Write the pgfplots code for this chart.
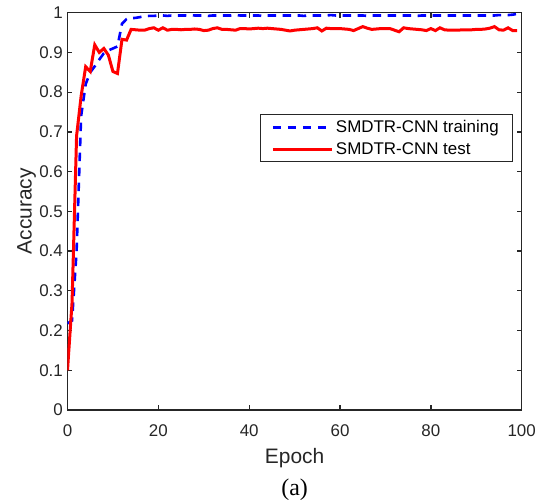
\documentclass[border=0pt]{standalone}
\usepackage{fontspec}
\setmainfont{Liberation Sans}
\newfontfamily\timesfont{Liberation Serif}
\usepackage{pgfplots}
\pgfplotsset{compat=1.18}
\definecolor{axgray}{RGB}{38,38,38}
\begin{document}
\begin{tikzpicture}
\path[use as bounding box] (-67.5bp,-90bp) rectangle (483.5bp,410bp);
\begin{axis}[
  name=ax,
  at={(0,0)}, anchor=south west,
  scale only axis, width=454.2bp, height=397.3bp,
  xmin=0, xmax=100, ymin=0, ymax=1,
  xtick={0,20,40,60,80,100},
  ytick={0,0.1,0.2,0.3,0.4,0.5,0.6,0.7,0.8,0.9,1},
  yticklabels={0,0.1,0.2,0.3,0.4,0.5,0.6,0.7,0.8,0.9,1},
  xticklabels={0,20,40,60,80,100},
  tick align=inside, tick pos=both,
  xticklabel pos=left, yticklabel pos=left,
  major tick length=5bp,
  axis line style={axgray, line width=1.3bp},
  every tick/.style={axgray, line width=1.3bp},
  ticklabel style={font=\fontsize{17}{20}\selectfont, text=axgray},
  yticklabel style={anchor=east, inner sep=0pt, xshift=-4.5bp},
  xticklabel style={anchor=base, inner sep=0pt, yshift=-26bp},
  xlabel={Epoch}, ylabel={Accuracy},
  xlabel style={at={(axis description cs:0.5,-0.1359)}, anchor=base, inner sep=0pt, font=\fontsize{21}{25}\selectfont, text=axgray},
  ylabel style={at={(axis description cs:-0.0900,0.5)}, anchor=center, inner sep=0pt, font=\fontsize{21}{25}\selectfont, text=axgray},
  legend cell align=left,
  legend style={at={(axis description cs:0.4238,0.7443)}, anchor=north west,
    draw=axgray, line width=0.8bp, fill=white,
    font=\fontsize{17}{20}\selectfont,
    inner xsep=11bp, inner ysep=5bp, row sep=6bp, column sep=0bp,
    nodes={inner xsep=2.6bp, inner ysep=1bp}},
  legend image code/.code={\draw[#1] (0bp,0bp) -- (59bp,0bp);},
]
\addplot[blue, line width=2.6bp, dash pattern=on 8.5bp off 6.5bp] table {
0 0.218
1 0.225
2 0.40
3 0.74
4 0.82
5 0.85
6 0.865
7 0.882
8 0.898
9 0.905
10 0.910
11 0.915
12 0.972
13 0.984
14 0.986
15 0.987
16 0.989
17 0.991
18 0.992
19 0.992
20 0.993
21 0.993
22 0.992
23 0.993
24 0.993
25 0.993
26 0.993
27 0.994
28 0.993
29 0.993
30 0.993
31 0.992
32 0.993
33 0.993
34 0.993
35 0.993
36 0.993
37 0.994
38 0.993
39 0.993
40 0.993
41 0.993
42 0.993
43 0.992
44 0.993
45 0.993
46 0.993
47 0.993
48 0.993
49 0.993
50 0.993
51 0.993
52 0.992
53 0.993
54 0.993
55 0.993
56 0.993
57 0.993
58 0.994
59 0.993
60 0.993
61 0.993
62 0.993
63 0.993
64 0.993
65 0.993
66 0.992
67 0.993
68 0.993
69 0.993
70 0.993
71 0.993
72 0.993
73 0.993
74 0.993
75 0.993
76 0.993
77 0.992
78 0.993
79 0.993
80 0.993
81 0.993
82 0.993
83 0.993
84 0.993
85 0.993
86 0.993
87 0.993
88 0.993
89 0.993
90 0.993
91 0.993
92 0.993
93 0.993
94 0.993
95 0.994
96 0.994
97 0.994
98 0.995
99 0.997
};
\addlegendentry{SMDTR-CNN training}
\addplot[red, line width=3bp] table {
0 0.10
1 0.27
2 0.69
3 0.79
4 0.864
5 0.852
6 0.919
7 0.900
8 0.910
9 0.893
10 0.852
11 0.847
12 0.933
13 0.931
14 0.958
15 0.957
16 0.956
17 0.956
18 0.960
19 0.962
20 0.956
21 0.962
22 0.956
23 0.958
24 0.958
25 0.957
26 0.958
27 0.958
28 0.959
29 0.958
30 0.955
31 0.956
32 0.960
33 0.962
34 0.958
35 0.958
36 0.957
37 0.956
38 0.960
39 0.960
40 0.959
41 0.960
42 0.961
43 0.960
44 0.961
45 0.960
46 0.959
47 0.958
48 0.956
49 0.954
50 0.956
51 0.957
52 0.958
53 0.959
54 0.960
55 0.962
56 0.954
57 0.961
58 0.960
59 0.960
60 0.960
61 0.959
62 0.958
63 0.955
64 0.960
65 0.965
66 0.961
67 0.958
68 0.959
69 0.960
70 0.960
71 0.960
72 0.956
73 0.952
74 0.962
75 0.960
76 0.959
77 0.958
78 0.957
79 0.955
80 0.960
81 0.955
82 0.962
83 0.957
84 0.956
85 0.956
86 0.956
87 0.957
88 0.957
89 0.957
90 0.958
91 0.958
92 0.959
93 0.961
94 0.965
95 0.957
96 0.956
97 0.962
98 0.955
99 0.955
};
\addlegendentry{SMDTR-CNN test}
\end{axis}
\node[anchor=base, inner sep=0pt, font=\timesfont\fontsize{24}{28}\selectfont, text=black] at (227.1bp,-85bp) {(a)};
\end{tikzpicture}
\end{document}
